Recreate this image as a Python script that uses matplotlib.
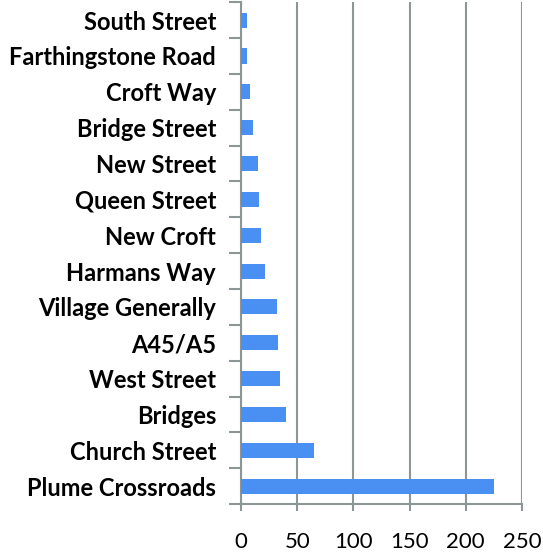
import matplotlib.pyplot as plt
import numpy as np

# categories listed bottom to top
streets = ["Plume Crossroads", "Church Street", "Bridges", "West Street", "A45/A5",
           "Village Generally", "Harmans Way", "New Croft", "Queen Street", "New Street",
           "Bridge Street", "Croft Way", "Farthingstone Road", "South Street"]
counts = [225, 65, 40, 35, 33, 32, 21, 18, 16, 15, 11, 8, 5, 5]
x_ticks = [0, 50, 100, 150, 200, 250]

bar_color = "#4a90f2"
grid_color = "#8c9696"

plt.rcParams["font.family"] = ["Lato", "DejaVu Sans"]

fig = plt.figure(figsize=(5.43, 5.57), dpi=100)
ax = fig.add_axes([0.444, 0.095, 0.517, 0.901])

y = np.arange(len(streets))
ax.barh(y, counts, height=0.42, color=bar_color, zorder=3)

ax.set_xlim(0, 250)
ax.set_ylim(-0.5, len(streets) - 0.5)
ax.set_xticks(x_ticks)
ax.set_xticklabels([str(t) for t in x_ticks], fontsize=16)
ax.tick_params(axis="x", length=5, width=1.5, color=grid_color, pad=15)

ax.set_yticks(y)
ax.set_yticklabels(streets, fontsize=17, fontweight="bold")
ax.tick_params(axis="y", which="major", length=0, pad=18)
ax.set_yticks(np.arange(-0.5, len(streets)), minor=True)
ax.tick_params(axis="y", which="minor", length=9, width=1.5, color=grid_color)

ax.grid(axis="x", color=grid_color, linewidth=1.5, zorder=0)
for side in ["top", "right"]:
    ax.spines[side].set_visible(False)
for side in ["left", "bottom"]:
    ax.spines[side].set_color(grid_color)
    ax.spines[side].set_linewidth(1.5)

fig.savefig("out.png", dpi=100)
